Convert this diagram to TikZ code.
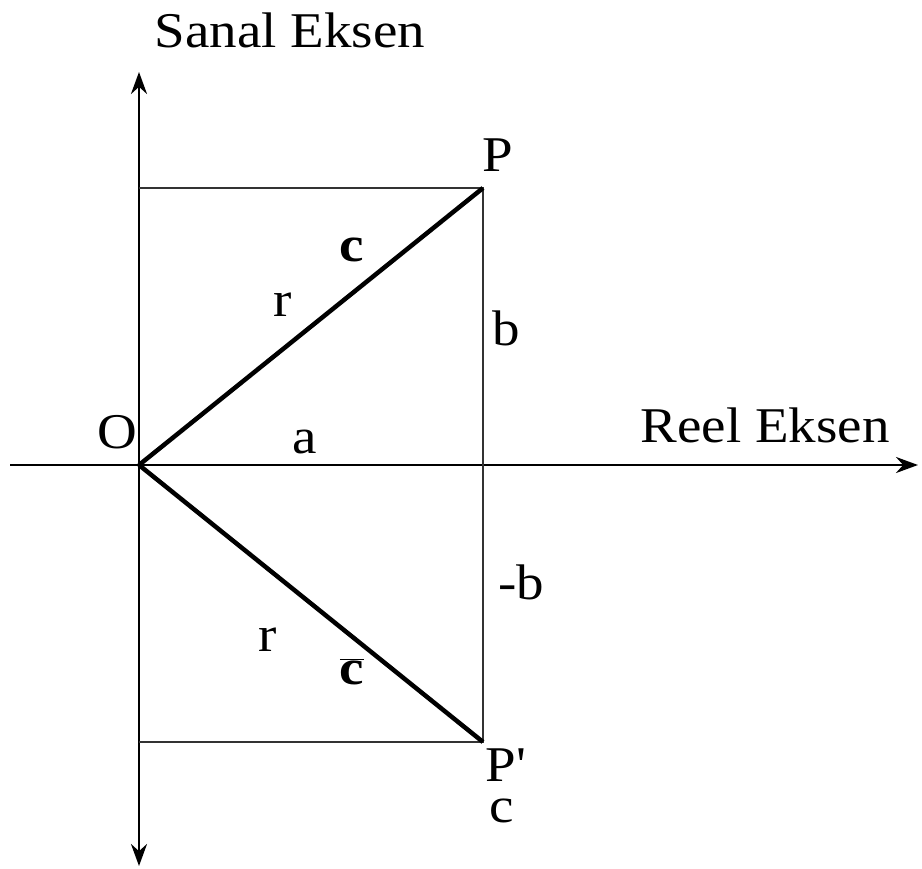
\documentclass[tikz,border=0pt]{standalone}
\usepackage{fontspec}
\usepackage{graphicx}
\setmainfont{Liberation Serif}
\usetikzlibrary{arrows.meta}
\newcommand{\wide}[1]{\scalebox{1.1}[1]{#1}}
\begin{document}
\begin{tikzpicture}[x=1pt,y=-1pt,
  lbl/.style={inner sep=0pt,font=\fontsize{50}{56}\selectfont},
  axis/.style={line width=2.6pt,-{Stealth[length=22pt,width=16pt]}},
  guide/.style={line width=2.6pt,draw=black!80},
  vec/.style={line width=4.5pt}]
\useasboundingbox (0,0) rectangle (922,869);
\coordinate (O) at (139,465);
\coordinate (P) at (483,188);
\coordinate (Q) at (483,742);
\coordinate (T) at (139,188);
\coordinate (B) at (139,742);
\coordinate (xl) at (10,465);
\coordinate (xr) at (918,465);
\coordinate (yt) at (139,72);
\coordinate (yb) at (139,866);
\draw[axis] (O) -- (xr);
\draw[line width=2.6pt] (O) -- (xl);
\draw[axis] (O) -- (yt);
\draw[axis] (O) -- (yb);
\draw[guide] (T) -- (P) -- (Q) -- (B);
\draw[vec] (O) -- (P);
\draw[vec] (O) -- (Q);
\node[lbl] (sanal) at (290,30) {\wide{Sanal Eksen}};
\node[lbl] (reel) at (765,425) {\wide{Reel Eksen}};
\node[lbl] (o) at (117,432) {\wide{O}};
\node[lbl] (a) at (305,442) {\wide{a}};
\node[lbl] (r1) at (283,305) {\wide{r}};
\node[lbl] (c1) at (352,250) {\wide{\textbf{c}}};
\node[lbl] (b1) at (506,328) {\wide{b}};
\node[lbl] (b2) at (521,582) {\wide{-b}};
\node[lbl] (r2) at (268,640) {\wide{r}};
\node[lbl] (c2) at (352,672) {\wide{$\overline{\hbox{\textbf{c}}}$}};
\node[lbl] (p) at (498,155) {\wide{P}};
\node[lbl,anchor=base,text depth=0pt] (pp) at (506,781) {\wide{P\textquotesingle}};
\node[lbl,anchor=base,text height=0.46em,text depth=0pt] (c3) at (502,822) {\wide{c}};
\end{tikzpicture}
\end{document}
